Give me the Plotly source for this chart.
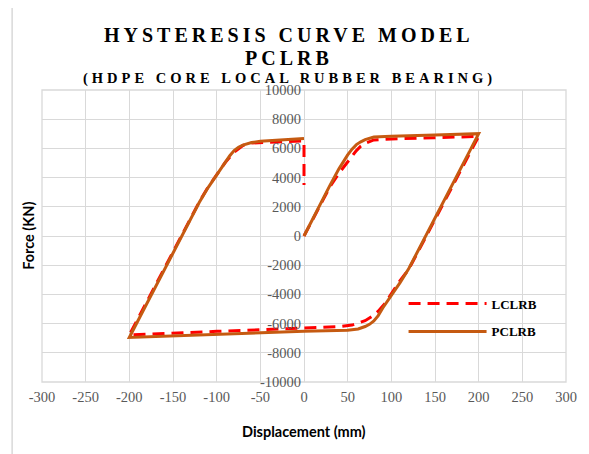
import plotly.graph_objects as go

# ---- data ----
lclrb_x = [0, 10, 20, 30, 40, 45, 50, 55, 60, 65, 70, 80, 90, 100, 150, 200,
           190, 180, 170, 160, 150, 140, 130, 120, 110, 100, 93, 85, 78, 70, 62, 55, 40, 0, -50, -100, -150, -200,
           -190, -180, -170, -160, -150, -140, -130, -120, -110, -100, -90, -80, -70, -60, -40, 0, 0]
lclrb_y = [0, 1150, 2300, 3400, 4300, 4700, 5100, 5500, 5850, 6150, 6350, 6580, 6620, 6650, 6735, 6820,
           5690, 4560, 3420, 2280, 1140, 0, -1140, -2280, -3050, -3950, -4600, -5150, -5500, -5800, -5980, -6100, -6200, -6310, -6420, -6530, -6650, -6780,
           -5640, -4500, -3360, -2220, -1080, 60, 1200, 2320, 3330, 4230, 5050, 5750, 6200, 6370, 6430, 6520, 3500]

pclrb_x = [0, 10, 20, 30, 40, 45, 50, 55, 60, 65, 70, 80, 100, 150, 200,
           190, 180, 170, 160, 150, 140, 130, 120, 110, 100, 90, 85, 80, 75, 70, 62, 50, 0, -50, -100, -150, -200,
           -190, -180, -170, -160, -150, -140, -130, -120, -110, -100, -90, -85, -80, -75, -70, -60, -50, 0]
pclrb_y = [0, 1180, 2350, 3500, 4600, 5100, 5550, 5950, 6260, 6450, 6600, 6780, 6840, 6925, 7010,
           5850, 4690, 3530, 2370, 1210, 50, -1110, -2230, -3200, -4050, -4950, -5450, -5820, -6050, -6200, -6370, -6450, -6530, -6630, -6730, -6830, -6950,
           -5790, -4630, -3470, -2310, -1150, 10, 1170, 2290, 3300, 4200, 5050, 5500, 5850, 6080, 6230, 6400, 6490, 6670]

x_ticks = [-300, -250, -200, -150, -100, -50, 0, 50, 100, 150, 200, 250, 300]
x_labels = ["-300", "-250", "-200", "-150", "-100", "-50", "0", "50", "100", "150", "200", "250", "300"]
y_ticks = [-10000, -8000, -6000, -4000, -2000, 0, 2000, 4000, 6000, 8000, 10000]
y_labels = ["-10000", "-8000", "-6000", "-4000", "-2000", "0", "2000", "4000", "6000", "8000", "10000"]

GRID = "#D9D9D9"
SERIF = "Liberation Serif, Times New Roman, serif"

fig = go.Figure()
fig.add_trace(go.Scatter(x=lclrb_x, y=lclrb_y, mode="lines", name="LCLRB", legendgroup="a",
                         line=dict(color="#FF0000", width=3, dash="12px,7px")))
fig.add_trace(go.Scatter(x=pclrb_x, y=pclrb_y, mode="lines", name="PCLRB", legendgroup="b",
                         line=dict(color="#C55A11", width=3)))

fig.update_layout(
    width=581, height=446,
    margin=dict(l=34, r=21, t=82, b=72),
    paper_bgcolor="white", plot_bgcolor="white",
    showlegend=True,
    legend=dict(x=0.69, y=0.32, xanchor="left", yanchor="top", bgcolor="rgba(0,0,0,0)",
                font=dict(family=SERIF, size=13, color="black", weight="bold"),
                itemwidth=78, tracegroupgap=8),
    xaxis=dict(range=[-300, 300], tickvals=x_ticks, ticktext=x_labels, showgrid=True, gridcolor=GRID,
               gridwidth=1.3, zeroline=False, showline=False, ticks="", ticklabelstandoff=4,
               tickfont=dict(family=SERIF, size=14.5, color="#595959")),
    yaxis=dict(range=[-10000, 10000], tickvals=y_ticks, ticktext=y_labels, showgrid=True, gridcolor=GRID,
               gridwidth=1.3, zeroline=False, showline=False, ticks="", anchor="free", position=0.5,
               ticklabelstandoff=3,
               tickfont=dict(family=SERIF, size=14.5, color="#595959")),
)

# plot-area border and outer chart border
fig.add_shape(type="rect", xref="paper", yref="paper", x0=0, x1=1, y0=0, y1=1,
              line=dict(color=GRID, width=1.3), layer="below")
fig.add_shape(type="line", xref="paper", yref="paper", x0=-0.057, x1=-0.057, y0=-0.3, y1=1.284,
              line=dict(color=GRID, width=1.5))
fig.add_shape(type="line", xref="paper", yref="paper", x0=-0.057, x1=1.1, y0=1.284, y1=1.284,
              line=dict(color=GRID, width=1.5))

sp = '<span style="letter-spacing:4px">{}</span>'
fig.add_annotation(text="<b>" + sp.format("HYSTERESIS CURVE MODEL") + "</b>", xref="paper", yref="paper",
                   x=0.472, y=1.19, showarrow=False, xanchor="center", yanchor="middle",
                   font=dict(family=SERIF, size=20, color="black"))
fig.add_annotation(text="<b>" + sp.format("PCLRB") + "</b>", xref="paper", yref="paper",
                   x=0.472, y=1.108, showarrow=False, xanchor="center", yanchor="middle",
                   font=dict(family=SERIF, size=20, color="black"))
fig.add_annotation(text="<b>" + sp.format("(HDPE CORE LOCAL RUBBER BEARING)") + "</b>", xref="paper", yref="paper",
                   x=0.472, y=1.04, showarrow=False, xanchor="center", yanchor="middle",
                   font=dict(family=SERIF, size=14.5, color="black"))
fig.add_annotation(text="<b>Displacement (mm)</b>", xref="paper", yref="paper",
                   x=0.5, y=-0.17, showarrow=False, xanchor="center", yanchor="middle",
                   font=dict(family="Lato, Open Sans, sans-serif", size=14.5, color="black"))
fig.add_annotation(text="<b>Force (KN)</b>", xref="paper", yref="paper",
                   x=-0.027, y=0.5, showarrow=False, xanchor="center", yanchor="middle", textangle=-90,
                   font=dict(family="Lato, Open Sans, sans-serif", size=14.5, color="black"))

fig.write_html("out.html")
